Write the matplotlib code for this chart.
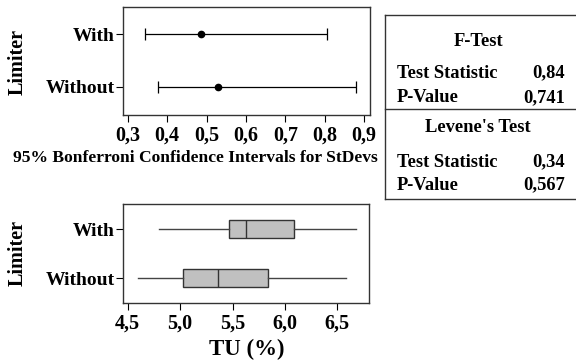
import matplotlib
matplotlib.use("Agg")
import matplotlib.pyplot as plt
from matplotlib.lines import Line2D

# data
groups = ["With", "Without"]
sd_low = [0.345, 0.376]
sd_est = [0.485, 0.529]
sd_high = [0.806, 0.880]

tu_whislo = [4.80, 4.60]
tu_q1 = [5.47, 5.03]
tu_med = [5.63, 5.36]
tu_q3 = [6.09, 5.84]
tu_whishi = [6.68, 6.58]

sd_ticks = [0.3, 0.4, 0.5, 0.6, 0.7, 0.8, 0.9]
sd_ticklabels = ["0,3", "0,4", "0,5", "0,6", "0,7", "0,8", "0,9"]
tu_ticks = [4.5, 5.0, 5.5, 6.0, 6.5]
tu_ticklabels = ["4,5", "5,0", "5,5", "6,0", "6,5"]

f_stat = "0,84"
f_p = "0,741"
lev_stat = "0,34"
lev_p = "0,567"

plt.rcParams['font.family'] = ['Liberation Serif', 'DejaVu Serif']
plt.rcParams['font.weight'] = 'bold'

W, H = 576, 363
fig = plt.figure(figsize=(W / 100, H / 100), dpi=100)

def fx(px):
    return px / W

def fy(py):
    return 1 - py / H

ypos = [1, 0]  # With on top

##top panel: confidence intervals for StDevs
ax1 = fig.add_axes([fx(123.3), fy(114.5), fx(369.5 - 123.3), (114.5 - 7) / H])
for i, g in enumerate(groups):
    ax1.errorbar(sd_est[i], ypos[i],
                 xerr=[[sd_est[i] - sd_low[i]], [sd_high[i] - sd_est[i]]],
                 fmt='o', color='black', ms=4.5, lw=0.9, capsize=4, capthick=0.9)
ax1.set_xlim(0.2888, 0.9137)
ax1.set_ylim(-0.52, 1.51)
ax1.set_xticks(sd_ticks)
ax1.set_xticklabels(sd_ticklabels)
ax1.set_yticks(ypos)
ax1.set_yticklabels(groups)

##bottom panel: boxplots of TU
ax2 = fig.add_axes([fx(123.3), fy(302.5), fx(369.3 - 123.3), (302.5 - 203.5) / H])
stats = []
for i, g in enumerate(groups):
    stats.append({"whislo": tu_whislo[i], "q1": tu_q1[i], "med": tu_med[i],
                  "q3": tu_q3[i], "whishi": tu_whishi[i], "fliers": [], "label": g})
ax2.bxp(stats, positions=ypos, orientation='horizontal', widths=0.37,
        showcaps=False, patch_artist=True, manage_ticks=False,
        boxprops=dict(facecolor='#c0c0c0', edgecolor='#333333', lw=1.0),
        medianprops=dict(color='#333333', lw=1.0),
        whiskerprops=dict(color='#444444', lw=1.0))
ax2.set_xlim(4.458, 6.805)
ax2.set_ylim(-0.49, 1.517)
ax2.set_xticks(tu_ticks)
ax2.set_xticklabels(tu_ticklabels)
ax2.set_yticks(ypos)
ax2.set_yticklabels(groups)

for ax in (ax1, ax2):
    ax.tick_params(direction='out', length=5, width=0.8)
    ax.tick_params(axis='x', labelsize=14.5, pad=3)
    ax.tick_params(axis='y', labelsize=14, pad=1)
    for s in ax.spines.values():
        s.set_linewidth(1.0)
        s.set_color('#333333')

fig.text(fx(18), fy(62), "Limiter", rotation=90, ha='center', va='center', fontsize=14.5)
fig.text(fx(18), fy(253), "Limiter", rotation=90, ha='center', va='center', fontsize=14.5)
fig.text(fx(195), fy(158), "95% Bonferroni Confidence Intervals for StDevs",
         ha='center', va='center', fontsize=12.6)
fig.text(fx(247), fy(349), "TU (%)", ha='center', va='center', fontsize=16.5)

##test results box
box_lines = [
    ([385, 590], [15, 15]),
    ([385, 385], [15, 199]),
    ([385, 590], [199, 199]),
    ([385, 590], [109.3, 109.3]),
]
for xs, ys in box_lines:
    fig.add_artist(Line2D([fx(x) for x in xs], [fy(y) for y in ys],
                          color='#333333', lw=1.0))

fs = 13.3
fig.text(fx(478), fy(42), "F-Test", ha='center', va='center', fontsize=fs)
fig.text(fx(397), fy(73), "Test Statistic", ha='left', va='center', fontsize=fs)
fig.text(fx(565), fy(73), f_stat, ha='right', va='center', fontsize=fs)
fig.text(fx(397), fy(98), "P-Value", ha='left', va='center', fontsize=fs)
fig.text(fx(565), fy(98), f_p, ha='right', va='center', fontsize=fs)
fig.text(fx(478), fy(128), "Levene's Test", ha='center', va='center', fontsize=fs)
fig.text(fx(397), fy(162), "Test Statistic", ha='left', va='center', fontsize=fs)
fig.text(fx(565), fy(162), lev_stat, ha='right', va='center', fontsize=fs)
fig.text(fx(397), fy(185), "P-Value", ha='left', va='center', fontsize=fs)
fig.text(fx(565), fy(185), lev_p, ha='right', va='center', fontsize=fs)

fig.savefig("out.png", dpi=100)
